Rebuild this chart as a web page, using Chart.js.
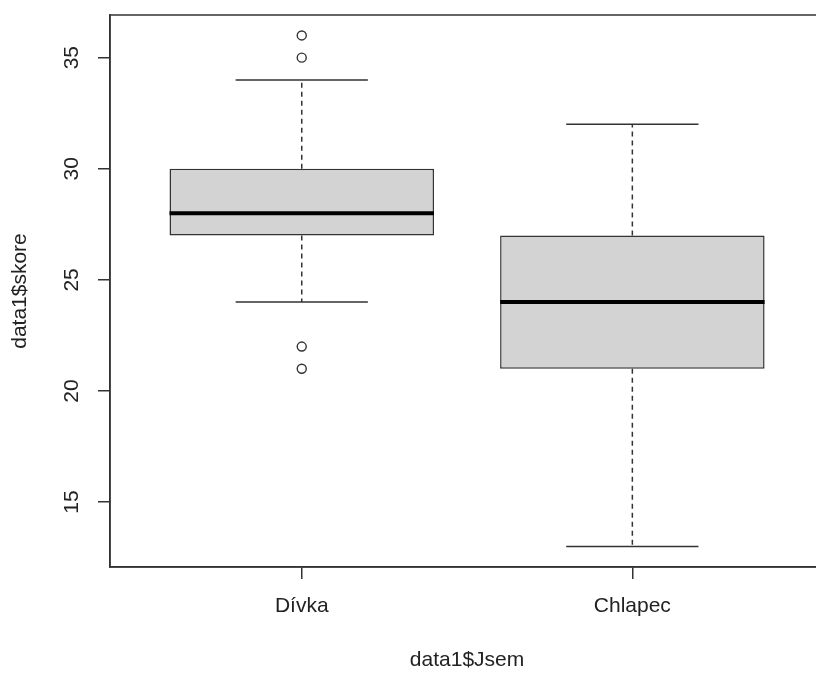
<!DOCTYPE html>
<html>
<head>
<meta charset="utf-8">
<script src="https://cdn.jsdelivr.net/npm/chart.js@4"></script>
<style>
  html, body { margin: 0; padding: 0; background: #fff; }
  #wrap { width: 816px; height: 673px; overflow: hidden; }
</style>
</head>
<body>
<div id="wrap"><canvas id="boxChart" width="830" height="673"></canvas></div>
<script>
// boxplot data
const categories = ["Dívka", "Chlapec"];
const q1 = [27, 21];
const medians = [28, 24];
const q3 = [30, 27];
const whiskerLow = [24, 13];
const whiskerHigh = [34, 32];
const outliersDivka = [36, 35, 22, 21];
const outliersChlapec = [];
const yTicks = [15, 20, 25, 30, 35];

const lineCol = "#333";
const textCol = "#222";
const fontFam = "'Liberation Sans', Arial, sans-serif";

const outlierPoints = [];
outliersDivka.forEach(v => outlierPoints.push({ x: 1, y: v }));
outliersChlapec.forEach(v => outlierPoints.push({ x: 2, y: v }));

// whiskers, medians, frame and rotated y labels
const boxExtras = {
    id: "boxExtras",
    afterDatasetsDraw(chart) {
        const { ctx, chartArea, scales: { x, y } } = chart;
        const halfCap = (x.getPixelForValue(1.2) - x.getPixelForValue(1));
        const halfBox = (x.getPixelForValue(1.4) - x.getPixelForValue(1));
        ctx.save();
        categories.forEach((c, i) => {
            const cx = x.getPixelForValue(i + 1);
            // dashed whiskers
            ctx.strokeStyle = lineCol;
            ctx.lineWidth = 1.5;
            ctx.setLineDash([5, 4]);
            ctx.beginPath();
            ctx.moveTo(cx, y.getPixelForValue(q3[i]));
            ctx.lineTo(cx, y.getPixelForValue(whiskerHigh[i]));
            ctx.moveTo(cx, y.getPixelForValue(q1[i]));
            ctx.lineTo(cx, y.getPixelForValue(whiskerLow[i]));
            ctx.stroke();
            ctx.setLineDash([]);
            // caps
            ctx.beginPath();
            [whiskerHigh[i], whiskerLow[i]].forEach(v => {
                const py = y.getPixelForValue(v);
                ctx.moveTo(cx - halfCap, py);
                ctx.lineTo(cx + halfCap, py);
            });
            ctx.stroke();
            // median
            ctx.strokeStyle = "#000";
            ctx.lineWidth = 4;
            ctx.beginPath();
            const my = y.getPixelForValue(medians[i]);
            ctx.moveTo(cx - halfBox, my);
            ctx.lineTo(cx + halfBox, my);
            ctx.stroke();
        });
        // plot frame
        ctx.strokeStyle = lineCol;
        ctx.lineWidth = 1.5;
        ctx.strokeRect(chartArea.left, chartArea.top, chartArea.right - chartArea.left, chartArea.bottom - chartArea.top);
        // y tick labels, rotated like R
        ctx.fillStyle = textCol;
        ctx.font = "21px " + fontFam;
        ctx.textAlign = "center";
        ctx.textBaseline = "middle";
        y.ticks.forEach(t => {
            ctx.save();
            ctx.translate(chartArea.left - 38, y.getPixelForValue(t.value));
            ctx.rotate(-Math.PI / 2);
            ctx.fillText(String(t.value), 0, 0);
            ctx.restore();
        });
        ctx.restore();
    }
};

const ctx = document.getElementById("boxChart").getContext("2d");
new Chart(ctx, {
    type: "bar",
    data: {
        datasets: [{
            type: "bar",
            data: [{ x: 1, y: [q1[0], q3[0]] }, { x: 2, y: [q1[1], q3[1]] }],
            backgroundColor: "#d3d3d3",
            borderColor: lineCol,
            borderWidth: 1.5,
            borderSkipped: false,
            barPercentage: 1,
            categoryPercentage: 0.8
        }, {
            type: "scatter",
            data: outlierPoints,
            pointRadius: 4.5,
            pointBackgroundColor: "#fff",
            pointBorderColor: lineCol,
            pointBorderWidth: 1.4
        }]
    },
    options: {
        responsive: false,
        animation: false,
        events: [],
        layout: { padding: { left: 0, top: 15, right: 5, bottom: 0 } },
        plugins: { legend: { display: false }, tooltip: { enabled: false } },
        scales: {
            x: {
                type: "linear",
                min: 0.42,
                max: 2.58,
                offset: false,
                afterBuildTicks: s => { s.ticks = [{ value: 1 }, { value: 2 }]; },
                afterFit: s => { s.height = 106; },
                ticks: {
                    callback: v => categories[v - 1],
                    color: textCol,
                    font: { family: fontFam, size: 21 },
                    padding: 15,
                    maxRotation: 0
                },
                grid: { offset: false, drawOnChartArea: false, drawTicks: true, tickLength: 12, color: lineCol, lineWidth: 1.5 },
                border: { display: true, color: lineCol, width: 1.5 },
                title: {
                    display: true,
                    text: "data1$Jsem",
                    color: textCol,
                    font: { family: fontFam, size: 21 },
                    padding: { top: 0, bottom: 0 }
                }
            },
            y: {
                min: 12.08,
                max: 36.92,
                afterBuildTicks: s => { s.ticks = yTicks.map(v => ({ value: v })); },
                afterFit: s => { s.width = 110; },
                ticks: { display: false },
                grid: { drawOnChartArea: false, drawTicks: true, tickLength: 12, color: lineCol, lineWidth: 1.5 },
                border: { display: true, color: lineCol, width: 1.5 },
                title: {
                    display: true,
                    text: "data1$skore",
                    color: textCol,
                    font: { family: fontFam, size: 21 },
                    padding: { top: 8, bottom: 0 }
                }
            }
        }
    },
    plugins: [boxExtras]
});
</script>
</body>
</html>
